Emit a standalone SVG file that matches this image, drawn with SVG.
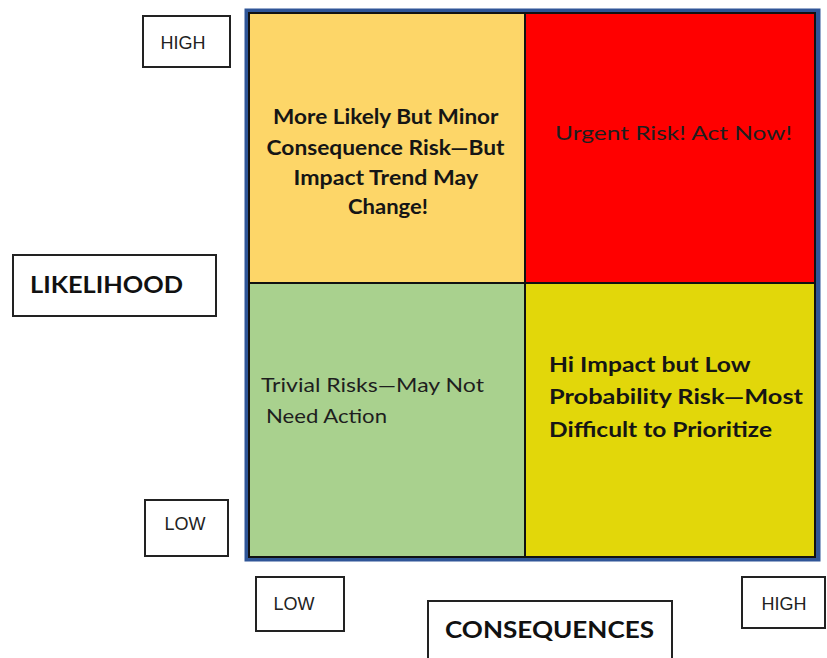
<svg xmlns="http://www.w3.org/2000/svg" width="827" height="658" viewBox="0 0 827 658">
  <style>
    .lbl { fill: #ffffff; stroke: #222222; stroke-width: 2; }
    .cell { stroke: #111111; stroke-width: 2; }
    .sm { font-family: "Liberation Sans", Arial, sans-serif; font-size: 18px; fill: #222222; }
    .ax { font-family: Lato, "Liberation Sans", sans-serif; font-size: 23px; font-weight: bold; fill: #111111; }
    .qb { font-family: Lato, "Liberation Sans", sans-serif; font-size: 20px; font-weight: bold; fill: #151515; }
    .qn { font-family: Lato, "Liberation Sans", sans-serif; font-size: 20px; fill: #1e1e1e; }
  </style>
  <rect width="827" height="658" fill="#ffffff"/>

  <!-- risk matrix quadrants -->
  <g id="matrix">
    <rect x="247" y="11" width="571" height="548" fill="none" stroke="#2F5597" stroke-width="5"/>
    <g id="q-likely-minor">
      <rect class="cell" x="249" y="13" width="276" height="270" fill="#FDD668"/>
      <text class="qb" text-anchor="middle">
        <tspan x="388" y="124" textLength="225" lengthAdjust="spacingAndGlyphs">More Likely But Minor</tspan>
        <tspan x="388" y="155" textLength="238" lengthAdjust="spacingAndGlyphs">Consequence Risk—But</tspan>
        <tspan x="388" y="185" textLength="184" lengthAdjust="spacingAndGlyphs">Impact Trend May</tspan>
        <tspan x="388" y="214" textLength="80" lengthAdjust="spacingAndGlyphs">Change!</tspan>
      </text>
    </g>
    <g id="q-urgent">
      <rect class="cell" x="525" y="13" width="290" height="270" fill="#FF0000"/>
      <text class="qn" x="555" y="140" textLength="237" lengthAdjust="spacingAndGlyphs" fill="#1a0000">Urgent Risk! Act Now!</text>
    </g>
    <g id="q-trivial">
      <rect class="cell" x="249" y="283" width="276" height="274" fill="#A9D18E"/>
      <text class="qn">
        <tspan x="261" y="392" textLength="223" lengthAdjust="spacingAndGlyphs">Trivial Risks—May Not</tspan>
        <tspan x="266" y="423" textLength="121" lengthAdjust="spacingAndGlyphs">Need Action</tspan>
      </text>
    </g>
    <g id="q-high-impact">
      <rect class="cell" x="525" y="283" width="290" height="274" fill="#E2D70A"/>
      <text class="qb">
        <tspan x="549" y="372" textLength="201" lengthAdjust="spacingAndGlyphs">Hi Impact but Low</tspan>
        <tspan x="549" y="404" textLength="254" lengthAdjust="spacingAndGlyphs">Probability Risk—Most</tspan>
        <tspan x="549" y="437" textLength="223" lengthAdjust="spacingAndGlyphs">Difficult to Prioritize</tspan>
      </text>
    </g>
  </g>

  <!-- axis labels -->
  <g id="likelihood-high">
    <rect class="lbl" x="143" y="16" width="87" height="51"/>
    <text class="sm" x="183" y="49" text-anchor="middle">HIGH</text>
  </g>
  <g id="likelihood-axis">
    <rect class="lbl" x="13" y="255" width="203" height="61"/>
    <text class="ax" x="30" y="293" textLength="153" lengthAdjust="spacingAndGlyphs">LIKELIHOOD</text>
  </g>
  <g id="likelihood-low">
    <rect class="lbl" x="145" y="500" width="83" height="56"/>
    <text class="sm" x="185" y="530" text-anchor="middle">LOW</text>
  </g>
  <g id="consequence-low">
    <rect class="lbl" x="256" y="577" width="88" height="54"/>
    <text class="sm" x="294" y="610" text-anchor="middle">LOW</text>
  </g>
  <g id="consequence-axis">
    <rect class="lbl" x="428" y="601" width="244" height="70"/>
    <text class="ax" x="445" y="638" textLength="209" lengthAdjust="spacingAndGlyphs">CONSEQUENCES</text>
  </g>
  <g id="consequence-high">
    <rect class="lbl" x="742" y="577" width="83" height="51"/>
    <text class="sm" x="784" y="610" text-anchor="middle">HIGH</text>
  </g>
</svg>
